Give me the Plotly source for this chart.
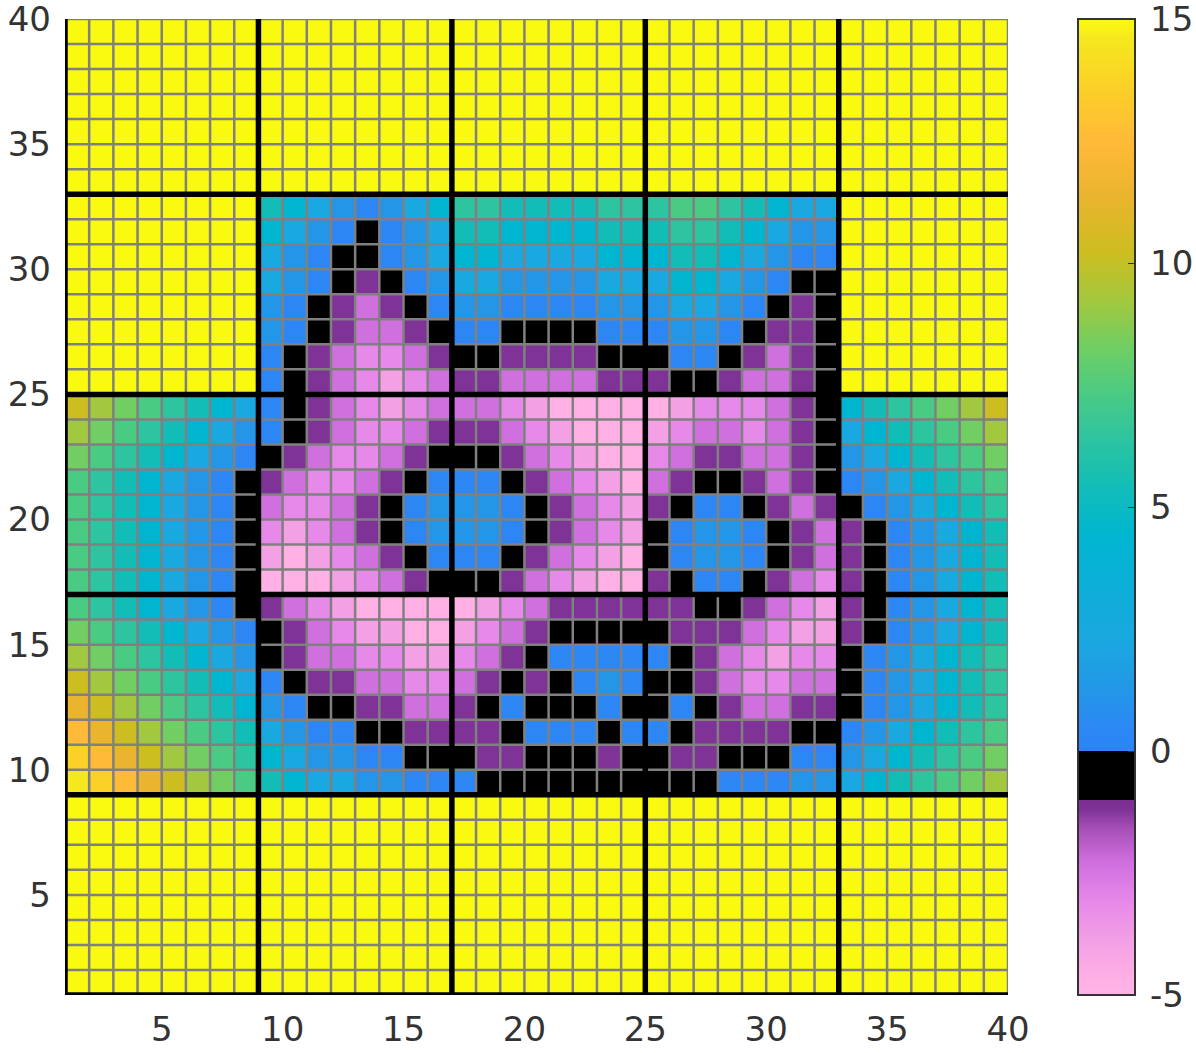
import plotly.graph_objects as go

level_values = {
    "A": -4.7, "B": -3.9, "C": -3.1, "D": -2.3, "E": -1.2, "K": -0.5,
    "a": 0.4, "b": 1.2, "c": 2.3, "d": 4.4, "e": 5.4, "f": 6.4, "g": 7.3,
    "h": 8.3, "i": 9.2, "j": 10.2, "k": 11.4, "l": 12.5, "m": 13.6, "n": 14.6,
    "Y": 15.0,
}

x_edges = list(range(1, 41))
y_edges = list(range(1, 41))
heavy_lines = [1, 9, 17, 25, 33]
tick_values = [5, 10, 15, 20, 25, 30, 35, 40]
colorbar_ticks = [-5, 0, 5, 10, 15]
colorbar_labels = ["\u2009-5", "\u20090", "\u20095", "\u200910", "\u200915"]

# one string per row, bottom row (y = 1) first; five blocks of 8,8,8,8,7 columns
yellow_row = "Y" * 39
rows_y1_8 = [yellow_row] * 8
rows_y9_16 = [
    "nmlkjihg" + "edccbbaa" + "aKKKKKKK" + "KKKaaabb" + "cdefghi",
    "mlkjihgf" + "dcbbaaKK" + "KEEKKKEK" + "KEEKKKaa" + "bcdefgh",
    "lkjihgfe" + "cbaaKKEE" + "EEKaaaKa" + "aKEEEEKK" + "abcdefg",
    "kjihgfed" + "baKKEEDD" + "EKaKKKaK" + "KaKEDDEE" + "Kabcdef",
    "jihgfedc" + "aKEEDDCC" + "DEKEKaba" + "KKEDCCDD" + "Kabcdef",
    "ihgfedcb" + "KEDDCCBB" + "CDEKaaaa" + "aKEDCBCC" + "Kabcdef",
    "hgfedcba" + "KEDCBBAA" + "BCDEKKKK" + "KEEEDCBB" + "EKabcde",
    "gfedcbaK" + "EDCBAAAA" + "ABCDEEEE" + "EEKKEDCB" + "EKabcde",
]
rows_y17_24 = [
    "gfedcbaK" + "AAABCDEK" + "KKEDCBAA" + "EKaaKEDC" + "EKabcde",
    "gfedcbaK" + "BABCDEKa" + "aaKEDCBA" + "KabbaKED" + "EKabcde",
    "gfedcbaK" + "CBCDEKab" + "bbaKEDCB" + "KabbaKED" + "EKabcde",
    "gfedcbaK" + "DCCDEKab" + "bbaKEDCB" + "EKaaKEDE" + "Kabcdef",
    "gfedcbaK" + "EDCCDEKa" + "aaKEDCBA" + "DEKKEDEK" + "abcdefg",
    "hgfedcba" + "KEDCCDEK" + "KKEDCBAA" + "CDEEDDEK" + "bcdefgh",
    "ihgfedcb" + "aKEDCCDE" + "EEDCBAAA" + "BCDDCDEK" + "cdefghi",
    "jihgfedc" + "aKEDCBCD" + "DDCBAAAA" + "ABCCCDEK" + "defghij",
]
rows_y25_32 = [
    "YYYYYYYY" + "aKEDCBCD" + "EEDDDDEE" + "EKKEDDEK" + "YYYYYYY",
    "YYYYYYYY" + "aKEDCCDE" + "KKEEEEKK" + "KaaKEDEK" + "YYYYYYY",
    "YYYYYYYY" + "baKEDDEK" + "aaKKKKaa" + "abbaKEEK" + "YYYYYYY",
    "YYYYYYYY" + "baKEDEKa" + "bbaaaabb" + "bccbaKEK" + "YYYYYYY",
    "YYYYYYYY" + "cbaKEKab" + "ccbbbbcc" + "cddcbaKK" + "YYYYYYY",
    "YYYYYYYY" + "cbaKKabc" + "ddccccdd" + "deedcbaa" + "YYYYYYY",
    "YYYYYYYY" + "dcbaKabc" + "eeddddee" + "effedcbb" + "YYYYYYY",
    "YYYYYYYY" + "edcbabcd" + "ffeeeeff" + "fggfedcc" + "YYYYYYY",
]
rows_y33_39 = [yellow_row] * 7
cell_rows = rows_y1_8 + rows_y9_16 + rows_y17_24 + rows_y25_32 + rows_y33_39

z_values = [[level_values[c] for c in row] for row in cell_rows]

color_stops = [
    (-5.0, "#FFB4E6"), (-4.7, "#FFB0E4"), (-3.9, "#F3A0E5"), (-3.1, "#E689E9"),
    (-2.3, "#D070DF"), (-1.6, "#A850B8"), (-1.2, "#7F3397"), (-1.0, "#7A2E90"),
    (-1.0, "#000000"), (0.0, "#000000"), (0.0, "#2C84F8"), (0.4, "#2C87F5"),
    (1.2, "#2396E8"), (2.3, "#19A8DF"), (4.4, "#00B5D0"), (5.4, "#12BDB8"),
    (6.4, "#2DC4A0"), (7.3, "#4ACB84"), (8.3, "#70CE62"), (9.2, "#A2C83F"),
    (10.2, "#CCBD20"), (11.4, "#EBB42E"), (12.5, "#FFBA38"), (13.6, "#FBD027"),
    (14.6, "#F5E81E"), (15.0, "#FAFA10"),
]
zmin, zmax = -5, 15
colorscale = [[(v - zmin) / (zmax - zmin), c] for v, c in color_stops]

TEXT = "#333333"
FONT = dict(family="DejaVu Sans", size=34, color=TEXT)


def grid_xy(positions, low, high, vertical):
    a, b = [], []
    for p in positions:
        a += [p, p, None]
        b += [low, high, None]
    return (a, b) if vertical else (b, a)


fig = go.Figure()
fig.add_trace(go.Heatmap(
    z=z_values, x=x_edges, y=y_edges, zmin=zmin, zmax=zmax,
    colorscale=colorscale, hoverinfo="skip",
    colorbar=dict(
        x=(1078 - 65) / (1008 - 65), xanchor="left", xpad=0,
        y=0.5, yanchor="middle", ypad=0,
        len=1.0, lenmode="fraction",
        thickness=57, thicknessmode="pixels",
        outlinecolor=TEXT, outlinewidth=2,
        tickmode="array", tickvals=colorbar_ticks, ticktext=colorbar_labels,
        ticks="inside", ticklen=8, tickwidth=1, tickcolor=TEXT,
        tickfont=FONT, ticklabeloverflow="allow",
    ),
))
for vertical in (True, False):
    gx, gy = grid_xy(x_edges, 1, 40, vertical)
    fig.add_trace(go.Scatter(x=gx, y=gy, mode="lines", showlegend=False,
                             hoverinfo="skip", cliponaxis=False,
                             line=dict(color="#808080", width=2.5)))
for vertical in (True, False):
    gx, gy = grid_xy(heavy_lines, 1, 40, vertical)
    fig.add_trace(go.Scatter(x=gx, y=gy, mode="lines", showlegend=False,
                             hoverinfo="skip", cliponaxis=False,
                             line=dict(color="#000000", width=5.5)))

axis_common = dict(
    range=[1, 40], tickmode="array", tickvals=tick_values, showgrid=False,
    zeroline=False, showline=False, ticks="", tickfont=FONT,
    automargin=False, ticklabeloverflow="allow",
)
fig.update_layout(
    width=1196, height=1053,
    margin=dict(l=65, r=188, t=19, b=58, pad=0, autoexpand=False),
    paper_bgcolor="white", plot_bgcolor="white",
    xaxis=dict(axis_common, ticklabelstandoff=11),
    yaxis=dict(axis_common, ticklabelstandoff=13),
)
fig.write_html("out.html", config={"displayModeBar": False},
               post_script="document.body.style.margin='0';")
